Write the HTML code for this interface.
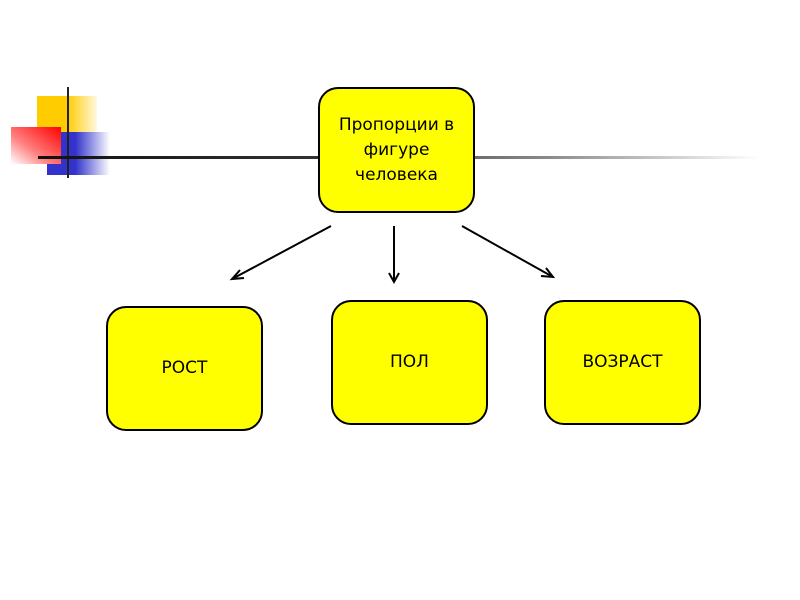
<!DOCTYPE html>
<html><head><meta charset="utf-8"><style>
body{margin:0;width:800px;height:600px;background:#fff;overflow:hidden;position:relative;font-family:"DejaVu Sans","Liberation Sans",sans-serif}
.d{position:absolute}
.b{position:absolute;background:#ffff00;border:2px solid #000;border-radius:20px;box-sizing:border-box;display:flex;align-items:center;justify-content:center;text-align:center;font-size:17px;line-height:25px;color:#000}
</style></head><body>
<div class="d" style="left:37px;top:96px;width:60px;height:44px;background:linear-gradient(to right,#ffcc00 50%,#fff8e0)"></div>
<div class="d" style="left:47px;top:132px;width:63px;height:43px;background:linear-gradient(to right,#3333cc 45%,#fff)"></div>
<div class="d" style="left:11px;top:127px;width:50px;height:37px;background:linear-gradient(to bottom left,#ff0000,#ff8080 60%,#fff)"></div>
<div class="d" style="left:67px;top:87px;width:2px;height:91px;background:#222"></div>
<div class="d" style="left:38px;top:156px;width:722px;height:3px;background:linear-gradient(to right,#111,#333 40%,#888 70%,#fff)"></div>
<div class="b" style="left:318px;top:87px;width:157px;height:126px">Пропорции в<br>фигуре<br>человека</div>
<div class="b" style="left:106px;top:306px;width:157px;height:125px">РОСТ</div>
<div class="b" style="left:331px;top:300px;width:157px;height:125px">ПОЛ</div>
<div class="b" style="left:544px;top:300px;width:157px;height:125px">ВОЗРАСТ</div>
<svg class="d" style="left:0;top:0" width="800" height="600">
<g stroke="#000" stroke-width="2" fill="none">
<line x1="331" y1="226" x2="232" y2="279"/><polyline points="240,270 232,279 244,278"/>
<line x1="394" y1="226" x2="394" y2="282"/><polyline points="389,273 394,282 399,273"/>
<line x1="462" y1="226" x2="553" y2="277"/><polyline points="541,276 553,277 546,268"/>
</g></svg>
</body></html>
